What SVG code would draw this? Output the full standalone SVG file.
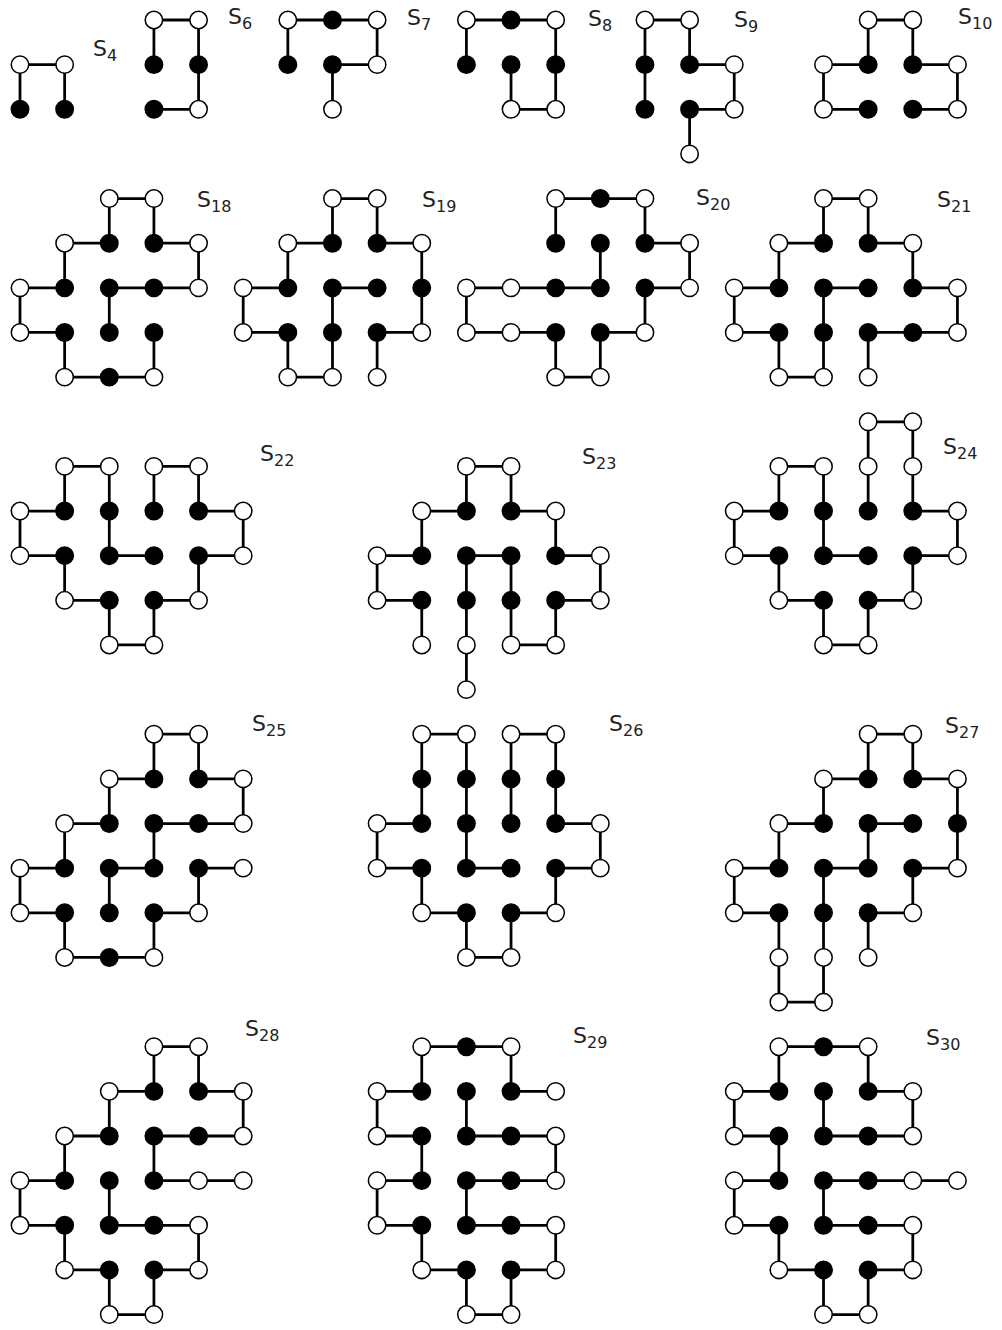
<svg xmlns="http://www.w3.org/2000/svg" xmlns:xlink="http://www.w3.org/1999/xlink" width="1002" height="1330" viewBox="0 0 1002 1330">
<style>
.e{fill:none;stroke:#000;stroke-width:0.062}
.w{fill:#fff;stroke:#000;stroke-width:0.034}
.b{fill:#000;stroke:#000;stroke-width:0.034}
.lbl{font-family:"DejaVu Sans",sans-serif;font-size:22px;fill:#222}
.sub{font-size:16px}
</style>
<defs>
<circle id="w" class="w" r="0.195"/>
<circle id="b" class="b" r="0.195"/>
</defs>
<rect width="1002" height="1330" fill="#fff"/>
<g transform="translate(20 20) scale(44.64)">
<g id="connectors">
<path id="e-S4" class="e" d="M0 1H1M0 1V2M1 1V2"/>
<path id="e-S6" class="e" d="M3 0H4M3 0V1M4 0V2M3 2H4"/>
<path id="e-S7" class="e" d="M6 0H8M6 0V1M8 0V1M7 1H8M7 1V2"/>
<path id="e-S8" class="e" d="M10 0H12M10 0V1M12 0V2M11 1V2M11 2H12"/>
<path id="e-S9" class="e" d="M14 0H15M14 0V2M15 0V1M15 1H16M16 1V2M15 2H16M15 2V3"/>
<path id="e-S10" class="e" d="M19 0H20M19 0V1M20 0V1M18 1H19M20 1H21M18 1V2M21 1V2M18 2H19M20 2H21"/>
<path id="e-S18" class="e" d="M2 4H3M2 4V5M3 4V5M1 5H2M3 5H4M1 5V6M4 5V6M0 6H1M2 6H4M2 6V7M0 6V7M0 7H1M1 7V8M1 8H3M3 7V8"/>
<path id="e-S19" class="e" d="M7 4H8M7 4V5M8 4V5M6 5H7M8 5H9M6 5V6M9 5V7M5 6H6M7 6H8M7 6V8M5 6V7M5 7H6M6 7V8M6 8H7M8 7H9M8 7V8"/>
<path id="e-S20" class="e" d="M12 4H14M12 4V5M14 4V5M14 5H15M15 5V6M13 5V6M10 6H13M14 6H15M14 6V7M10 6V7M10 7H12M12 7V8M12 8H13M13 7V8M13 7H14"/>
<path id="e-S21" class="e" d="M18 4H19M18 4V5M19 4V5M17 5H18M19 5H20M17 5V6M20 5V6M16 6H17M18 6H19M20 6H21M18 6V8M16 6V7M21 6V7M16 7H17M17 7V8M17 8H18M19 7H21M19 7V8"/>
<path id="e-S22" class="e" d="M1 10H2M3 10H4M1 10V11M2 10V12M3 10V11M4 10V11M0 11H1M4 11H5M0 11V12M5 11V12M0 12H1M2 12H3M4 12H5M1 12V13M4 12V13M1 13H2M3 13H4M2 13V14M3 13V14M2 14H3"/>
<path id="e-S23" class="e" d="M10 10H11M10 10V11M11 10V11M9 11H10M11 11H12M9 11V12M12 11V12M8 12H9M10 12H11M12 12H13M8 12V13M13 12V13M10 12V15M11 12V14M8 13H9M12 13H13M9 13V14M12 13V14M11 14H12"/>
<path id="e-S24" class="e" d="M19 9H20M19 9V11M20 9V11M17 10H18M17 10V11M18 10V12M16 11H17M20 11H21M16 11V12M21 11V12M16 12H17M18 12H19M20 12H21M17 12V13M20 12V13M17 13H18M19 13H20M18 13V14M19 13V14M18 14H19"/>
<path id="e-S25" class="e" d="M3 16H4M3 16V17M4 16V17M2 17H3M4 17H5M2 17V18M5 17V18M1 18H2M3 18H5M1 18V19M3 18V19M0 19H1M2 19H3M4 19H5M2 19V20M4 19V20M0 19V20M0 20H1M3 20H4M1 20V21M3 20V21M1 21H3"/>
<path id="e-S26" class="e" d="M9 16H10M11 16H12M9 16V18M10 16V19M11 16V18M12 16V18M8 18H9M12 18H13M8 18V19M13 18V19M8 19H9M10 19H11M12 19H13M9 19V20M12 19V20M9 20H10M11 20H12M10 20V21M11 20V21M10 21H11"/>
<path id="e-S27" class="e" d="M19 16H20M19 16V17M20 16V17M18 17H19M20 17H21M18 17V18M21 17V19M17 18H18M19 18H20M19 18V19M17 18V19M16 19H17M18 19H19M20 19H21M18 19V22M20 19V20M16 19V20M16 20H17M19 20H20M17 20V22M19 20V21M17 22H18"/>
<path id="e-S28" class="e" d="M3 23H4M3 23V24M4 23V24M2 24H3M4 24H5M2 24V25M5 24V25M1 25H2M3 25H5M1 25V26M3 25V26M0 26H1M3 26H5M2 26V27M0 26V27M0 27H1M2 27H4M4 27V28M1 27V28M1 28H2M3 28H4M2 28V29M3 28V29M2 29H3"/>
<path id="e-S29" class="e" d="M9 23H11M9 23V24M11 23V24M8 24H9M11 24H12M10 24V25M8 24V25M8 25H9M10 25H12M9 25V26M12 25V26M8 26H9M10 26H12M8 26V27M10 26V27M8 27H9M10 27H12M9 27V28M12 27V28M9 28H10M11 28H12M10 28V29M11 28V29M10 29H11"/>
<path id="e-S30" class="e" d="M17 23H19M17 23V24M19 23V24M16 24H17M19 24H20M16 24V25M20 24V25M18 24V25M16 25H17M18 25H20M17 25V26M16 26H17M18 26H21M16 26V27M18 26V27M16 27H17M18 27H20M17 27V28M20 27V28M17 28H18M19 28H20M18 28V29M19 28V29M18 29H19"/>
</g>
<g id="S4"><use href="#w" x="0" y="1"/><use href="#w" x="1" y="1"/><use href="#b" x="0" y="2"/><use href="#b" x="1" y="2"/></g>
<g id="S6"><use href="#w" x="3" y="0"/><use href="#w" x="4" y="0"/><use href="#w" x="4" y="2"/><use href="#b" x="3" y="1"/><use href="#b" x="4" y="1"/><use href="#b" x="3" y="2"/></g>
<g id="S7"><use href="#w" x="6" y="0"/><use href="#w" x="8" y="0"/><use href="#w" x="8" y="1"/><use href="#w" x="7" y="2"/><use href="#b" x="7" y="0"/><use href="#b" x="6" y="1"/><use href="#b" x="7" y="1"/></g>
<g id="S8"><use href="#w" x="10" y="0"/><use href="#w" x="12" y="0"/><use href="#w" x="11" y="2"/><use href="#w" x="12" y="2"/><use href="#b" x="11" y="0"/><use href="#b" x="10" y="1"/><use href="#b" x="11" y="1"/><use href="#b" x="12" y="1"/></g>
<g id="S9"><use href="#w" x="14" y="0"/><use href="#w" x="15" y="0"/><use href="#w" x="16" y="1"/><use href="#w" x="16" y="2"/><use href="#w" x="15" y="3"/><use href="#b" x="14" y="1"/><use href="#b" x="15" y="1"/><use href="#b" x="14" y="2"/><use href="#b" x="15" y="2"/></g>
<g id="S10"><use href="#w" x="19" y="0"/><use href="#w" x="20" y="0"/><use href="#w" x="18" y="1"/><use href="#w" x="21" y="1"/><use href="#w" x="18" y="2"/><use href="#w" x="21" y="2"/><use href="#b" x="19" y="1"/><use href="#b" x="20" y="1"/><use href="#b" x="19" y="2"/><use href="#b" x="20" y="2"/></g>
<g id="S18"><use href="#w" x="2" y="4"/><use href="#w" x="3" y="4"/><use href="#w" x="1" y="5"/><use href="#w" x="4" y="5"/><use href="#w" x="0" y="6"/><use href="#w" x="4" y="6"/><use href="#w" x="0" y="7"/><use href="#w" x="1" y="8"/><use href="#w" x="3" y="8"/><use href="#b" x="2" y="5"/><use href="#b" x="3" y="5"/><use href="#b" x="1" y="6"/><use href="#b" x="2" y="6"/><use href="#b" x="3" y="6"/><use href="#b" x="1" y="7"/><use href="#b" x="2" y="7"/><use href="#b" x="3" y="7"/><use href="#b" x="2" y="8"/></g>
<g id="S19"><use href="#w" x="7" y="4"/><use href="#w" x="8" y="4"/><use href="#w" x="6" y="5"/><use href="#w" x="9" y="5"/><use href="#w" x="5" y="6"/><use href="#w" x="5" y="7"/><use href="#w" x="9" y="7"/><use href="#w" x="6" y="8"/><use href="#w" x="7" y="8"/><use href="#w" x="8" y="8"/><use href="#b" x="7" y="5"/><use href="#b" x="8" y="5"/><use href="#b" x="6" y="6"/><use href="#b" x="7" y="6"/><use href="#b" x="8" y="6"/><use href="#b" x="9" y="6"/><use href="#b" x="6" y="7"/><use href="#b" x="7" y="7"/><use href="#b" x="8" y="7"/></g>
<g id="S20"><use href="#w" x="12" y="4"/><use href="#w" x="14" y="4"/><use href="#w" x="15" y="5"/><use href="#w" x="10" y="6"/><use href="#w" x="11" y="6"/><use href="#w" x="15" y="6"/><use href="#w" x="10" y="7"/><use href="#w" x="11" y="7"/><use href="#w" x="14" y="7"/><use href="#w" x="12" y="8"/><use href="#w" x="13" y="8"/><use href="#b" x="13" y="4"/><use href="#b" x="12" y="5"/><use href="#b" x="13" y="5"/><use href="#b" x="14" y="5"/><use href="#b" x="12" y="6"/><use href="#b" x="13" y="6"/><use href="#b" x="14" y="6"/><use href="#b" x="12" y="7"/><use href="#b" x="13" y="7"/></g>
<g id="S21"><use href="#w" x="18" y="4"/><use href="#w" x="19" y="4"/><use href="#w" x="17" y="5"/><use href="#w" x="20" y="5"/><use href="#w" x="16" y="6"/><use href="#w" x="21" y="6"/><use href="#w" x="16" y="7"/><use href="#w" x="21" y="7"/><use href="#w" x="17" y="8"/><use href="#w" x="18" y="8"/><use href="#w" x="19" y="8"/><use href="#b" x="18" y="5"/><use href="#b" x="19" y="5"/><use href="#b" x="17" y="6"/><use href="#b" x="18" y="6"/><use href="#b" x="19" y="6"/><use href="#b" x="20" y="6"/><use href="#b" x="17" y="7"/><use href="#b" x="18" y="7"/><use href="#b" x="19" y="7"/><use href="#b" x="20" y="7"/></g>
<g id="S22"><use href="#w" x="1" y="10"/><use href="#w" x="2" y="10"/><use href="#w" x="3" y="10"/><use href="#w" x="4" y="10"/><use href="#w" x="0" y="11"/><use href="#w" x="5" y="11"/><use href="#w" x="0" y="12"/><use href="#w" x="5" y="12"/><use href="#w" x="1" y="13"/><use href="#w" x="4" y="13"/><use href="#w" x="2" y="14"/><use href="#w" x="3" y="14"/><use href="#b" x="1" y="11"/><use href="#b" x="2" y="11"/><use href="#b" x="3" y="11"/><use href="#b" x="4" y="11"/><use href="#b" x="1" y="12"/><use href="#b" x="2" y="12"/><use href="#b" x="3" y="12"/><use href="#b" x="4" y="12"/><use href="#b" x="2" y="13"/><use href="#b" x="3" y="13"/></g>
<g id="S23"><use href="#w" x="10" y="10"/><use href="#w" x="11" y="10"/><use href="#w" x="9" y="11"/><use href="#w" x="12" y="11"/><use href="#w" x="8" y="12"/><use href="#w" x="13" y="12"/><use href="#w" x="8" y="13"/><use href="#w" x="13" y="13"/><use href="#w" x="9" y="14"/><use href="#w" x="10" y="14"/><use href="#w" x="11" y="14"/><use href="#w" x="12" y="14"/><use href="#w" x="10" y="15"/><use href="#b" x="10" y="11"/><use href="#b" x="11" y="11"/><use href="#b" x="9" y="12"/><use href="#b" x="10" y="12"/><use href="#b" x="11" y="12"/><use href="#b" x="12" y="12"/><use href="#b" x="9" y="13"/><use href="#b" x="10" y="13"/><use href="#b" x="11" y="13"/><use href="#b" x="12" y="13"/></g>
<g id="S24"><use href="#w" x="19" y="9"/><use href="#w" x="20" y="9"/><use href="#w" x="17" y="10"/><use href="#w" x="18" y="10"/><use href="#w" x="19" y="10"/><use href="#w" x="20" y="10"/><use href="#w" x="16" y="11"/><use href="#w" x="21" y="11"/><use href="#w" x="16" y="12"/><use href="#w" x="21" y="12"/><use href="#w" x="17" y="13"/><use href="#w" x="20" y="13"/><use href="#w" x="18" y="14"/><use href="#w" x="19" y="14"/><use href="#b" x="17" y="11"/><use href="#b" x="18" y="11"/><use href="#b" x="19" y="11"/><use href="#b" x="20" y="11"/><use href="#b" x="17" y="12"/><use href="#b" x="18" y="12"/><use href="#b" x="19" y="12"/><use href="#b" x="20" y="12"/><use href="#b" x="18" y="13"/><use href="#b" x="19" y="13"/></g>
<g id="S25"><use href="#w" x="3" y="16"/><use href="#w" x="4" y="16"/><use href="#w" x="2" y="17"/><use href="#w" x="5" y="17"/><use href="#w" x="1" y="18"/><use href="#w" x="5" y="18"/><use href="#w" x="0" y="19"/><use href="#w" x="5" y="19"/><use href="#w" x="0" y="20"/><use href="#w" x="4" y="20"/><use href="#w" x="1" y="21"/><use href="#w" x="3" y="21"/><use href="#b" x="3" y="17"/><use href="#b" x="4" y="17"/><use href="#b" x="2" y="18"/><use href="#b" x="3" y="18"/><use href="#b" x="4" y="18"/><use href="#b" x="1" y="19"/><use href="#b" x="2" y="19"/><use href="#b" x="3" y="19"/><use href="#b" x="4" y="19"/><use href="#b" x="1" y="20"/><use href="#b" x="2" y="20"/><use href="#b" x="3" y="20"/><use href="#b" x="2" y="21"/></g>
<g id="S26"><use href="#w" x="9" y="16"/><use href="#w" x="10" y="16"/><use href="#w" x="11" y="16"/><use href="#w" x="12" y="16"/><use href="#w" x="8" y="18"/><use href="#w" x="13" y="18"/><use href="#w" x="8" y="19"/><use href="#w" x="13" y="19"/><use href="#w" x="9" y="20"/><use href="#w" x="12" y="20"/><use href="#w" x="10" y="21"/><use href="#w" x="11" y="21"/><use href="#b" x="9" y="17"/><use href="#b" x="10" y="17"/><use href="#b" x="11" y="17"/><use href="#b" x="12" y="17"/><use href="#b" x="9" y="18"/><use href="#b" x="10" y="18"/><use href="#b" x="11" y="18"/><use href="#b" x="12" y="18"/><use href="#b" x="9" y="19"/><use href="#b" x="10" y="19"/><use href="#b" x="11" y="19"/><use href="#b" x="12" y="19"/><use href="#b" x="10" y="20"/><use href="#b" x="11" y="20"/></g>
<g id="S27"><use href="#w" x="19" y="16"/><use href="#w" x="20" y="16"/><use href="#w" x="18" y="17"/><use href="#w" x="21" y="17"/><use href="#w" x="17" y="18"/><use href="#w" x="16" y="19"/><use href="#w" x="21" y="19"/><use href="#w" x="16" y="20"/><use href="#w" x="20" y="20"/><use href="#w" x="17" y="21"/><use href="#w" x="18" y="21"/><use href="#w" x="19" y="21"/><use href="#w" x="17" y="22"/><use href="#w" x="18" y="22"/><use href="#b" x="19" y="17"/><use href="#b" x="20" y="17"/><use href="#b" x="18" y="18"/><use href="#b" x="19" y="18"/><use href="#b" x="20" y="18"/><use href="#b" x="21" y="18"/><use href="#b" x="17" y="19"/><use href="#b" x="18" y="19"/><use href="#b" x="19" y="19"/><use href="#b" x="20" y="19"/><use href="#b" x="17" y="20"/><use href="#b" x="18" y="20"/><use href="#b" x="19" y="20"/></g>
<g id="S28"><use href="#w" x="3" y="23"/><use href="#w" x="4" y="23"/><use href="#w" x="2" y="24"/><use href="#w" x="5" y="24"/><use href="#w" x="1" y="25"/><use href="#w" x="5" y="25"/><use href="#w" x="0" y="26"/><use href="#w" x="4" y="26"/><use href="#w" x="5" y="26"/><use href="#w" x="0" y="27"/><use href="#w" x="4" y="27"/><use href="#w" x="1" y="28"/><use href="#w" x="4" y="28"/><use href="#w" x="2" y="29"/><use href="#w" x="3" y="29"/><use href="#b" x="3" y="24"/><use href="#b" x="4" y="24"/><use href="#b" x="2" y="25"/><use href="#b" x="3" y="25"/><use href="#b" x="4" y="25"/><use href="#b" x="1" y="26"/><use href="#b" x="2" y="26"/><use href="#b" x="3" y="26"/><use href="#b" x="1" y="27"/><use href="#b" x="2" y="27"/><use href="#b" x="3" y="27"/><use href="#b" x="2" y="28"/><use href="#b" x="3" y="28"/></g>
<g id="S29"><use href="#w" x="9" y="23"/><use href="#w" x="11" y="23"/><use href="#w" x="8" y="24"/><use href="#w" x="12" y="24"/><use href="#w" x="8" y="25"/><use href="#w" x="12" y="25"/><use href="#w" x="8" y="26"/><use href="#w" x="12" y="26"/><use href="#w" x="8" y="27"/><use href="#w" x="12" y="27"/><use href="#w" x="9" y="28"/><use href="#w" x="12" y="28"/><use href="#w" x="10" y="29"/><use href="#w" x="11" y="29"/><use href="#b" x="10" y="23"/><use href="#b" x="9" y="24"/><use href="#b" x="10" y="24"/><use href="#b" x="11" y="24"/><use href="#b" x="9" y="25"/><use href="#b" x="10" y="25"/><use href="#b" x="11" y="25"/><use href="#b" x="9" y="26"/><use href="#b" x="10" y="26"/><use href="#b" x="11" y="26"/><use href="#b" x="9" y="27"/><use href="#b" x="10" y="27"/><use href="#b" x="11" y="27"/><use href="#b" x="10" y="28"/><use href="#b" x="11" y="28"/></g>
<g id="S30"><use href="#w" x="17" y="23"/><use href="#w" x="19" y="23"/><use href="#w" x="16" y="24"/><use href="#w" x="20" y="24"/><use href="#w" x="16" y="25"/><use href="#w" x="20" y="25"/><use href="#w" x="16" y="26"/><use href="#w" x="20" y="26"/><use href="#w" x="21" y="26"/><use href="#w" x="16" y="27"/><use href="#w" x="20" y="27"/><use href="#w" x="17" y="28"/><use href="#w" x="20" y="28"/><use href="#w" x="18" y="29"/><use href="#w" x="19" y="29"/><use href="#b" x="18" y="23"/><use href="#b" x="17" y="24"/><use href="#b" x="18" y="24"/><use href="#b" x="19" y="24"/><use href="#b" x="17" y="25"/><use href="#b" x="18" y="25"/><use href="#b" x="19" y="25"/><use href="#b" x="17" y="26"/><use href="#b" x="18" y="26"/><use href="#b" x="19" y="26"/><use href="#b" x="17" y="27"/><use href="#b" x="18" y="27"/><use href="#b" x="19" y="27"/><use href="#b" x="18" y="28"/><use href="#b" x="19" y="28"/></g>
</g>
<g id="labels" class="lbl">
<text x="93" y="56">S<tspan class="sub" dy="5">4</tspan></text>
<text x="228" y="24">S<tspan class="sub" dy="5">6</tspan></text>
<text x="407" y="25">S<tspan class="sub" dy="5">7</tspan></text>
<text x="588" y="26">S<tspan class="sub" dy="5">8</tspan></text>
<text x="734" y="27">S<tspan class="sub" dy="5">9</tspan></text>
<text x="958" y="24">S<tspan class="sub" dy="5">10</tspan></text>
<text x="197" y="207">S<tspan class="sub" dy="5">18</tspan></text>
<text x="422" y="207">S<tspan class="sub" dy="5">19</tspan></text>
<text x="696" y="205">S<tspan class="sub" dy="5">20</tspan></text>
<text x="937" y="207">S<tspan class="sub" dy="5">21</tspan></text>
<text x="260" y="461">S<tspan class="sub" dy="5">22</tspan></text>
<text x="582" y="464">S<tspan class="sub" dy="5">23</tspan></text>
<text x="943" y="454">S<tspan class="sub" dy="5">24</tspan></text>
<text x="252" y="731">S<tspan class="sub" dy="5">25</tspan></text>
<text x="609" y="731">S<tspan class="sub" dy="5">26</tspan></text>
<text x="945" y="733">S<tspan class="sub" dy="5">27</tspan></text>
<text x="245" y="1036">S<tspan class="sub" dy="5">28</tspan></text>
<text x="573" y="1043">S<tspan class="sub" dy="5">29</tspan></text>
<text x="926" y="1045">S<tspan class="sub" dy="5">30</tspan></text>
</g>
</svg>
